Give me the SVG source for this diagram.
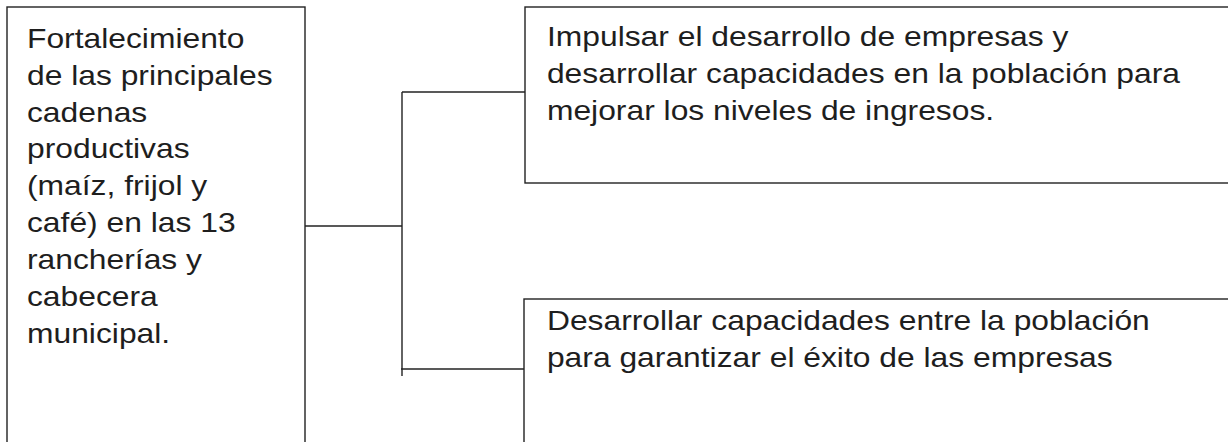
<svg xmlns="http://www.w3.org/2000/svg" width="1228" height="442" viewBox="0 0 1228 442">
<style>
.box{fill:#fff;stroke:#222;stroke-width:1.4}
.conn{stroke:#222;stroke-width:1.4;fill:none}
.t{font-family:"Liberation Sans",Arial,sans-serif;font-size:27px;fill:#1e1e1e}
</style>
<rect width="1228" height="442" fill="#fff"/>
<g id="node-left">
<rect class="box" x="7" y="7" width="298" height="445"/>
<g transform="scale(1.178,1)">
<text class="t" x="22.9" y="48">Fortalecimiento</text>
<text class="t" x="22.9" y="85">de las principales</text>
<text class="t" x="22.9" y="122">cadenas</text>
<text class="t" x="22.9" y="158">productivas</text>
<text class="t" x="22.9" y="195">(maíz, frijol y</text>
<text class="t" x="22.9" y="232">café) en las 13</text>
<text class="t" x="22.9" y="269">rancherías y</text>
<text class="t" x="22.9" y="306">cabecera</text>
<text class="t" x="22.9" y="343">municipal.</text>
</g>
</g>
<g id="node-top">
<rect class="box" x="525" y="7" width="720" height="176"/>
<g transform="scale(1.178,1)">
<text class="t" x="464.3" y="46">Impulsar el desarrollo de empresas y</text>
<text class="t" x="464.3" y="83">desarrollar capacidades en la población para</text>
<text class="t" x="464.3" y="120">mejorar los niveles de ingresos.</text>
</g>
</g>
<g id="node-bottom">
<rect class="box" x="524" y="299" width="720" height="160"/>
<g transform="scale(1.178,1)">
<text class="t" x="464.3" y="330">Desarrollar capacidades entre la población</text>
<text class="t" x="464.3" y="367">para garantizar el éxito de las empresas</text>
</g>
</g>
<g id="connectors">
<line class="conn" x1="305" y1="226" x2="402" y2="226"/>
<line class="conn" x1="402" y1="92" x2="402" y2="376"/>
<line class="conn" x1="402" y1="92" x2="525" y2="92"/>
<line class="conn" x1="401" y1="369" x2="524" y2="369"/>
</g>
</svg>
